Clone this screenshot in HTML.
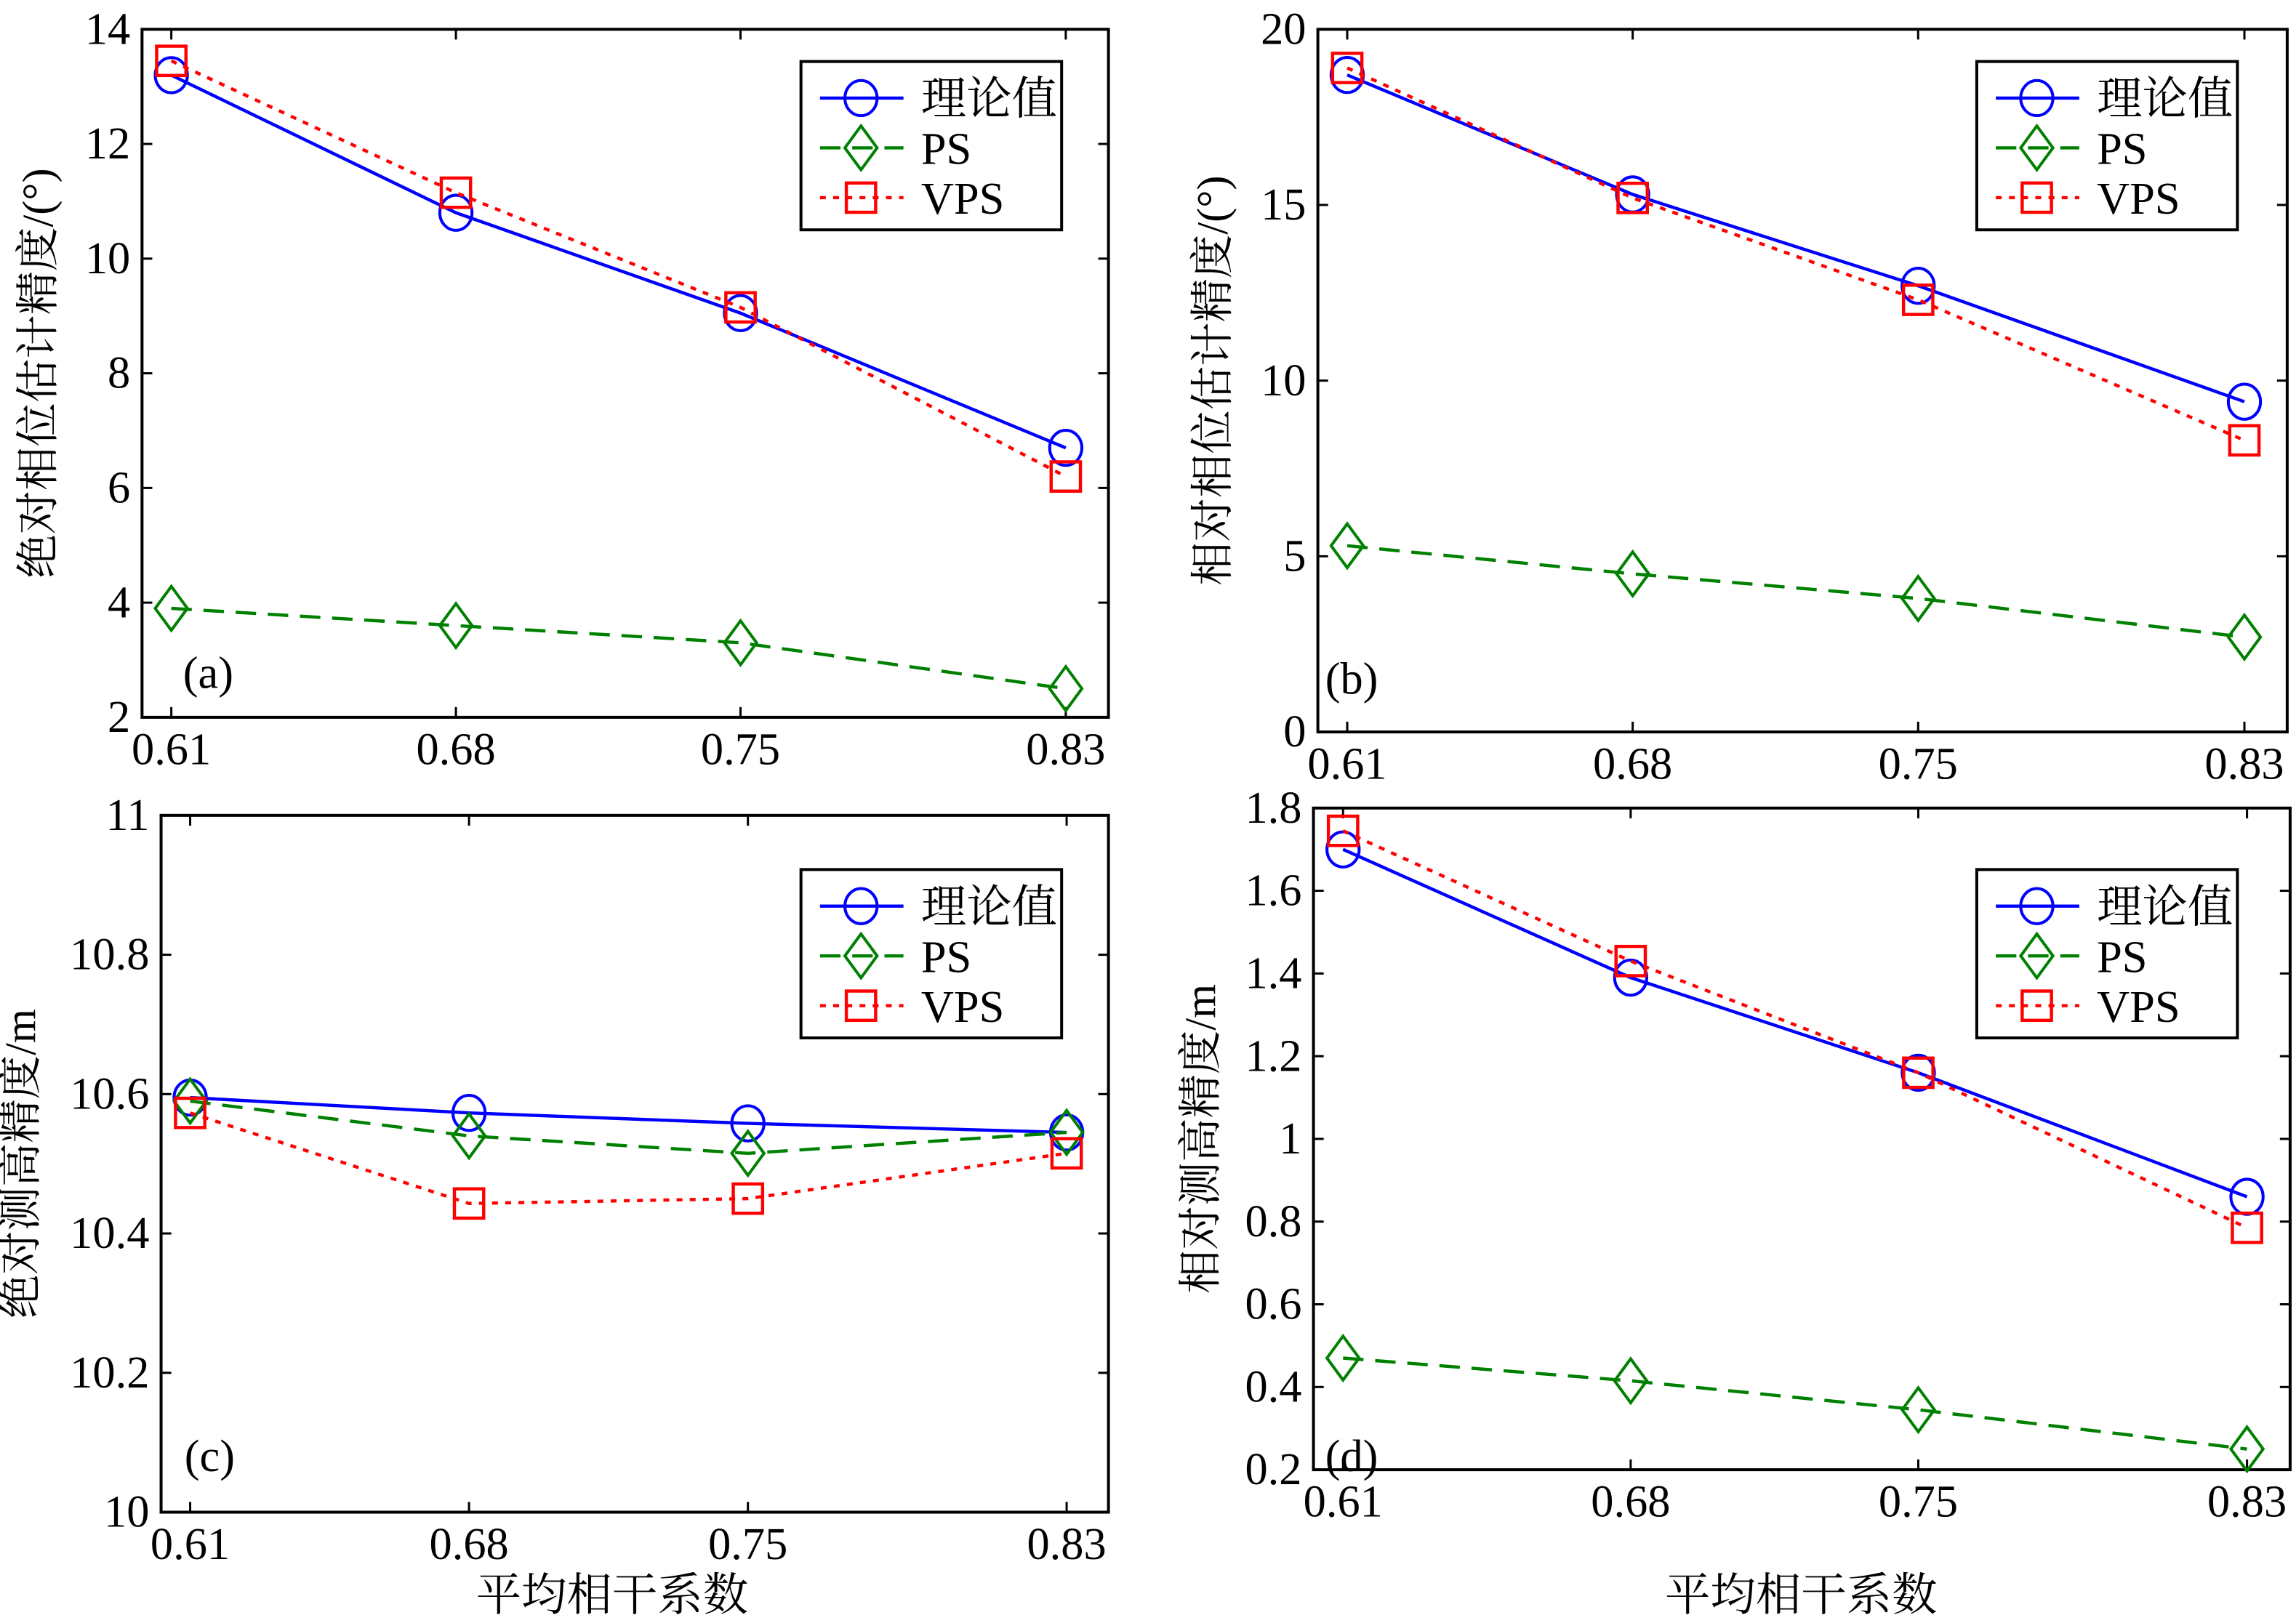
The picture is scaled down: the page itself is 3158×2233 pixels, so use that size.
<!DOCTYPE html>
<html><head><meta charset="utf-8"><style>
html,body{margin:0;padding:0;background:#fff;}
svg{display:block;}
text{font-family:"Liberation Serif","Noto Serif CJK SC",serif;fill:#000;}
</style></head><body>
<svg id="fig" width="3158" height="2233" viewBox="0 0 1568 1108.7" xmlns="http://www.w3.org/2000/svg"></svg>
<script>
const xCats = [0.61, 0.68, 0.75, 0.83];
const xTickLabels = ["0.61", "0.68", "0.75", "0.83"];
const seriesNames = ["理论值", "PS", "VPS"];
const aTheory = [13.2, 10.8, 9.05, 6.7];
const aPS = [3.9, 3.6, 3.3, 2.5];
const aVPS = [13.45, 11.15, 9.15, 6.2];
const aYTicks = [2, 4, 6, 8, 10, 12, 14];
const bTheory = [18.7, 15.3, 12.7, 9.4];
const bPS = [5.3, 4.5, 3.8, 2.7];
const bVPS = [18.9, 15.2, 12.3, 8.3];
const bYTicks = [0, 5, 10, 15, 20];
const cTheory = [10.595, 10.573, 10.558, 10.545];
const cPS = [10.59, 10.54, 10.515, 10.545];
const cVPS = [10.573, 10.443, 10.45, 10.515];
const cYTicks = [10, 10.2, 10.4, 10.6, 10.8, 11];
const cYTickLabels = ["10", "10.2", "10.4", "10.6", "10.8", "11"];
const dTheory = [1.70, 1.39, 1.16, 0.86];
const dPS = [0.47, 0.415, 0.345, 0.25];
const dVPS = [1.745, 1.43, 1.16, 0.785];
const dYTicks = [0.2, 0.4, 0.6, 0.8, 1, 1.2, 1.4, 1.6, 1.8];
const dYTickLabels = ["0.2", "0.4", "0.6", "0.8", "1", "1.2", "1.4", "1.6", "1.8"];

const NS = "http://www.w3.org/2000/svg";
const svg = document.getElementById("fig");
const FS = 31;
function mk(tag, attrs, parent) {
  const e = document.createElementNS(NS, tag);
  for (const k in attrs) e.setAttribute(k, attrs[k]);
  (parent || svg).appendChild(e);
  return e;
}
const styles = [
  {color: "#0000ff", dash: "", marker: "circle"},
  {color: "#008000", dash: "14,8", marker: "diamond"},
  {color: "#ff0000", dash: "4,5", marker: "square"}
];
function drawMarker(g, type, x, y, color) {
  let m;
  if (type === "circle") m = mk("ellipse", {cx: x, cy: y, rx: 11, ry: 12, fill: "none", stroke: color, "stroke-width": 2}, g);
  else if (type === "diamond") m = mk("polygon", {points: `${x},${y-15} ${x+11},${y} ${x},${y+15} ${x-11},${y}`, fill: "none", stroke: color, "stroke-width": 2}, g);
  else m = mk("rect", {x: x-10, y: y-10, width: 20, height: 20, fill: "none", stroke: color, "stroke-width": 2.2}, g);
  
  
}
function panel(cfg) {
  const g = mk("g", {});
  
  
  const L = cfg.L, R = cfg.R, T = cfg.T, B = cfg.B;
  const xs = v => L + (v - cfg.xmin) / (cfg.xmax - cfg.xmin) * (R - L);
  const ys = v => B - (v - cfg.ymin) / (cfg.ymax - cfg.ymin) * (B - T);
  const frame = mk("rect", {x: L, y: T, width: R - L, height: B - T, fill: "#fff", stroke: "#000", "stroke-width": 2}, g);
  
  
  xCats.forEach((v, i) => {
    const x = xs(v);
    mk("line", {x1: x, y1: B, x2: x, y2: B - 7, stroke: "#000", "stroke-width": 1.5}, g);
    mk("line", {x1: x, y1: T, x2: x, y2: T + 7, stroke: "#000", "stroke-width": 1.5}, g);
    const t = mk("text", {x: x, y: B + 32, "text-anchor": "middle", "font-size": FS}, g);
    t.textContent = xTickLabels[i];
    
    
  });
  cfg.yTicks.forEach((v, i) => {
    const y = ys(v);
    mk("line", {x1: L, y1: y, x2: L + 7, y2: y, stroke: "#000", "stroke-width": 1.5}, g);
    mk("line", {x1: R, y1: y, x2: R - 7, y2: y, stroke: "#000", "stroke-width": 1.5}, g);
    const t = mk("text", {x: L - 8, y: y + 10, "text-anchor": "end", "font-size": FS}, g);
    t.textContent = cfg.yLabels ? cfg.yLabels[i] : String(v);
    
    
  });
  const yt = mk("text", {x: 0, y: 0, "text-anchor": "middle", "font-size": 30, transform: `translate(${cfg.ytx},${(T + B) / 2}) rotate(-90)`}, g);
  yt.textContent = cfg.ytitle;
  
  
  cfg.series.forEach((vals, si) => {
    const s = styles[si];
    const pts = vals.map((v, i) => `${xs(xCats[i])},${ys(v)}`).join(" ");
    const pl = mk("polyline", {points: pts, fill: "none", stroke: s.color, "stroke-width": 2.2, "stroke-dasharray": s.dash}, g);
    
    
    vals.forEach((v, i) => drawMarker(g, s.marker, xs(xCats[i]), ys(v), s.color));
  });
  const pt = mk("text", {x: cfg.plx, y: cfg.ply, "font-size": FS}, g);
  pt.textContent = "(" + cfg.id + ")";
  
  
  const lx = cfg.lgx, ly = cfg.lgy;
  const lg = mk("g", {}, g);
  
  
  mk("rect", {x: lx, y: ly, width: 178, height: 115, fill: "#fff", stroke: "#000", "stroke-width": 2}, lg);
  seriesNames.forEach((n, si) => {
    const s = styles[si];
    const yy = ly + 25 + si * 34;
    const e = mk("g", {}, lg);
    
    
    mk("line", {x1: lx + 13, y1: yy, x2: lx + 70, y2: yy, stroke: s.color, "stroke-width": 2.2, "stroke-dasharray": s.dash}, e);
    drawMarker(e, s.marker, lx + 41, yy, s.color);
    const t = mk("text", {x: lx + 82, y: yy + 11, "font-size": 31}, e);
    t.textContent = n;
  });
}
panel({id: "a", L: 97, R: 757, T: 20, B: 490, xmin: 0.6028, xmax: 0.8405, ymin: 2, ymax: 14, yTicks: aYTicks,
  series: [aTheory, aPS, aVPS], ytitle: "绝对相位估计精度/(°)", ytx: 36, plx: 125, ply: 470, lgx: 547, lgy: 42});
panel({id: "b", L: 900, R: 1562, T: 20, B: 500, xmin: 0.6028, xmax: 0.8405, ymin: 0, ymax: 20, yTicks: bYTicks,
  series: [bTheory, bPS, bVPS], ytitle: "相对相位估计精度/(°)", ytx: 838, plx: 905, ply: 474, lgx: 1350, lgy: 42});
panel({id: "c", L: 110, R: 757, T: 557, B: 1033, xmin: 0.6027, xmax: 0.8405, ymin: 10, ymax: 11, yTicks: cYTicks, yLabels: cYTickLabels,
  series: [cTheory, cPS, cVPS], ytitle: "绝对测高精度/m", ytx: 24, plx: 126, ply: 1005, lgx: 547, lgy: 594});
panel({id: "d", L: 897, R: 1564, T: 552, B: 1004, xmin: 0.6028, xmax: 0.8405, ymin: 0.2, ymax: 1.8, yTicks: dYTicks, yLabels: dYTickLabels,
  series: [dTheory, dPS, dVPS], ytitle: "相对测高精度/m", ytx: 830, plx: 905, ply: 1005, lgx: 1350, lgy: 594});
[[418, "x-axis-title-c"], [1230, "x-axis-title-d"]].forEach(([x, nm]) => {
  const t = mk("text", {x: x, y: 1100, "text-anchor": "middle", "font-size": 31});
  t.textContent = "平均相干系数";
  
  
});
</script>
</body></html>
